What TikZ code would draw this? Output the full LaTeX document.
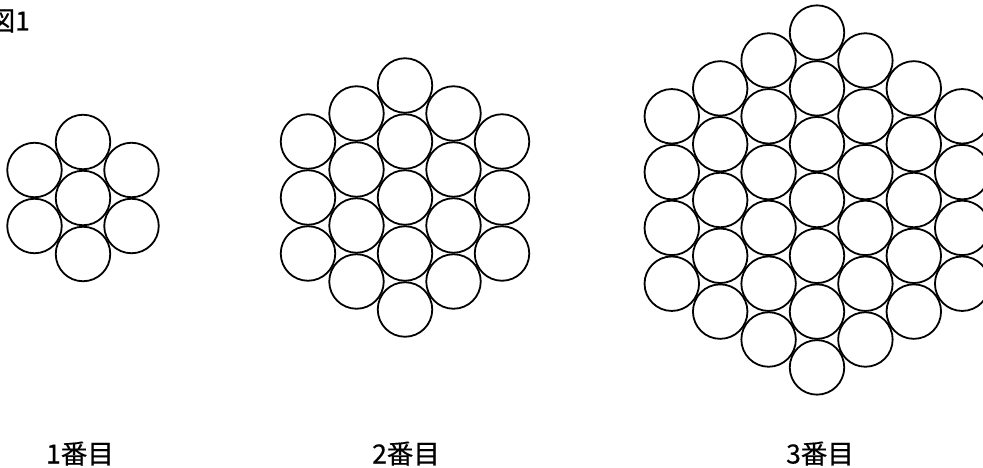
\documentclass[tikz,border=0pt]{standalone}
\usepackage{fontspec}
\newfontfamily\jp[FakeBold=0.4]{Noto Sans CJK JP}
\begin{document}
\begin{tikzpicture}[x=1pt,y=-1pt,
  ball/.style={circle,draw=black,line width=1.8pt,minimum size=54.5pt,inner sep=0pt,fill=white},
  lbl/.style={font=\jp\fontsize{26.5}{29}\selectfont,inner sep=0pt,anchor=base}]
\useasboundingbox (0,0) rectangle (983,468);
% figure 1
\foreach \k in {-1,0,1}{
  \pgfmathtruncatemacro\cnt{3-abs(\k)}
  \foreach \j in {1,...,\cnt}{
    \node[ball] (a\k-\j) at ({83+\k*48.5},{198+(\j-(\cnt+1)/2)*56}) {};
  }
}
% figure 2
\foreach \k in {-2,...,2}{
  \pgfmathtruncatemacro\cnt{5-abs(\k)}
  \foreach \j in {1,...,\cnt}{
    \node[ball] (b\k-\j) at ({405+\k*48.5},{197.5+(\j-(\cnt+1)/2)*56}) {};
  }
}
% figure 3
\foreach \k in {-3,...,3}{
  \pgfmathtruncatemacro\cnt{7-abs(\k)}
  \foreach \j in {1,...,\cnt}{
    \node[ball] (c\k-\j) at ({817+\k*48.4},{200+(\j-(\cnt+1)/2)*55.8}) {};
  }
}
\node[lbl,anchor=base west] (title) at (-11.5,30.5) {図1};
\node[lbl] (l1) at (80,463.5) {1番目};
\node[lbl] (l2) at (406,463.5) {2番目};
\node[lbl] (l3) at (820,463.5) {3番目};
\end{tikzpicture}
\end{document}
